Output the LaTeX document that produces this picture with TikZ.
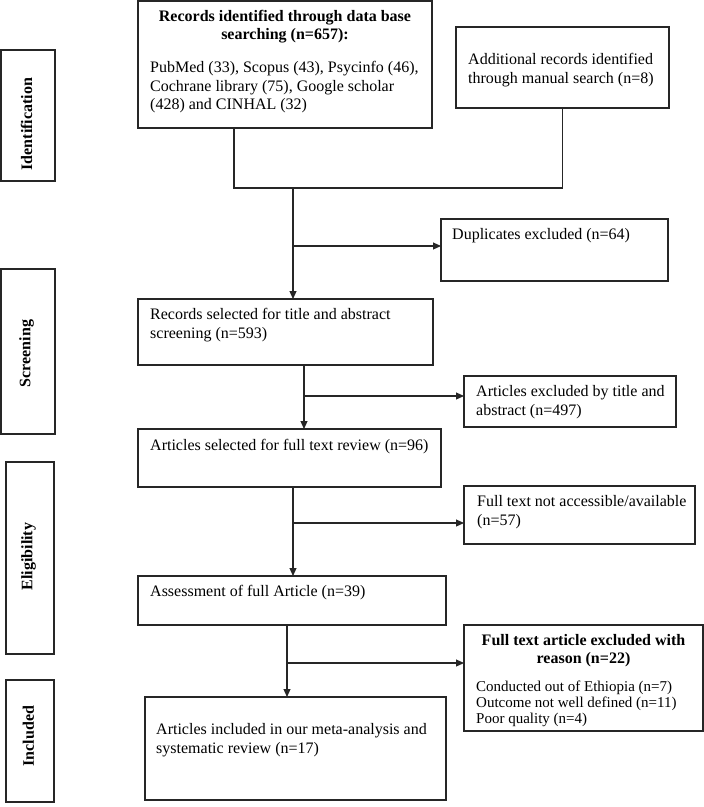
\documentclass[tikz,border=0pt]{standalone}
\usepackage{fontspec}
\setmainfont{Liberation Serif}
\usetikzlibrary{arrows.meta,calc}
\begin{document}
\begin{tikzpicture}[x=1pt,y=-1pt,
  box/.style={draw=black!85, line width=1.1pt, inner sep=0pt, outer sep=0pt, anchor=north west},
  txt/.style={anchor=north west, inner sep=0pt, align=left, font=\fontsize{16}{18.3}\selectfont},
  btxt/.style={anchor=north, inner sep=0pt, align=center, font=\fontsize{16}{18}\selectfont\bfseries},
  stxt/.style={anchor=north west, inner sep=0pt, align=left, font=\fontsize{15}{16}\selectfont},
  side/.style={draw=black!85, line width=1.1pt, inner sep=0pt, outer sep=0pt},
  sidetxt/.style={inner sep=0pt, rotate=90, font=\fontsize{16}{18}\selectfont\bfseries},
  link/.style={draw=black!85, line width=1.1pt},
  arr/.style={link, -{Triangle[length=8pt,width=7pt]}}]
\useasboundingbox (0,0) rectangle (704,807);

% side labels
\node[side, minimum width=54, minimum height=131] (sid) at (28,115.5) {};
\node[sidetxt] (sidt) at (26.5,124) {Identification};
\node[side, minimum width=54, minimum height=165] (sscr) at (28,351.5) {};
\node[sidetxt] (sscrt) at (26.5,353.5) {Screening};
\node[side, minimum width=48, minimum height=192] (selg) at (30,558) {};
\node[sidetxt] (selgt) at (28.5,556.5) {Eligibility};
\node[side, minimum width=48, minimum height=122] (sinc) at (30,741) {};
\node[sidetxt] (sinct) at (28.5,736) {Included};

% main boxes
\node[box, minimum width=294, minimum height=127] (b1) at (138,1) {};
\node[btxt] (b1h) at (285,10) {Records identified through data base\\searching (n=657):};
\node[txt] (b1t) at (150,61.5) {PubMed (33), Scopus (43), Psycinfo (46),\\Cochrane library (75), Google scholar\\(428) and CINHAL (32)};

\node[box, minimum width=213, minimum height=81] (b2) at (456,27) {};
\node[txt] (b2t) at (468,53.5) {Additional records identified\\through manual search (n=8)};

\node[box, minimum width=227, minimum height=62] (dup) at (441,219) {};
\node[txt] (dupt) at (452,228.5) {Duplicates excluded (n=64)};

\node[box, minimum width=295, minimum height=66] (b3) at (138,299) {};
\node[txt] (b3t) at (150,308.5) {Records selected for title and abstract\\screening (n=593)};

\node[box, minimum width=212, minimum height=51] (ex1) at (464,376) {};
\node[txt] (ex1t) at (476,385.5) {Articles excluded by title and\\abstract (n=497)};

\node[box, minimum width=303, minimum height=58] (b4) at (138,429) {};
\node[txt] (b4t) at (150,439.5) {Articles selected for full text review (n=96)};

\node[box, minimum width=231, minimum height=58] (ex2) at (464,486) {};
\node[txt] (ex2t) at (477,495.5) {Full text not accessible/available\\(n=57)};

\node[box, minimum width=308, minimum height=49] (b5) at (138,576) {};
\node[txt] (b5t) at (150,585.5) {Assessment of full Article (n=39)};

\node[box, minimum width=239, minimum height=106] (ex3) at (464,625) {};
\node[btxt] (ex3h) at (583.5,634.5) {Full text article excluded with\\reason (n=22)};
\node[stxt] (ex3t) at (476,681) {Conducted out of Ethiopia (n=7)\\Outcome not well defined (n=11)\\Poor quality (n=4)};

\node[box, minimum width=301, minimum height=103] (b6) at (145,697) {};
\node[txt] (b6t) at (156,723.5) {Articles included in our meta-analysis and\\systematic review (n=17)};

% connectors
\coordinate (j0) at (234,188);
\draw[link] (b1.south -| j0) -- (j0) -| (b2.south);
\coordinate (j1) at (293,188);
\draw[arr] (j1) -- (j1 |- b3.north);
\coordinate (j1b) at (293,246);
\draw[arr] (j1b) -- (j1b -| dup.west);

\coordinate (j2) at (304,396);
\draw[arr] (j2 |- b3.south) -- (j2 |- b4.north);
\draw[arr] (j2) -- (j2 -| ex1.west);

\coordinate (j3) at (293,523);
\draw[arr] (j3 |- b4.south) -- (j3 |- b5.north);
\draw[arr] (j3) -- (j3 -| ex2.west);

\coordinate (j4) at (287,663);
\draw[arr] (j4 |- b5.south) -- (j4 |- b6.north);
\draw[arr] (j4) -- (j4 -| ex3.west);
\end{tikzpicture}
\end{document}
